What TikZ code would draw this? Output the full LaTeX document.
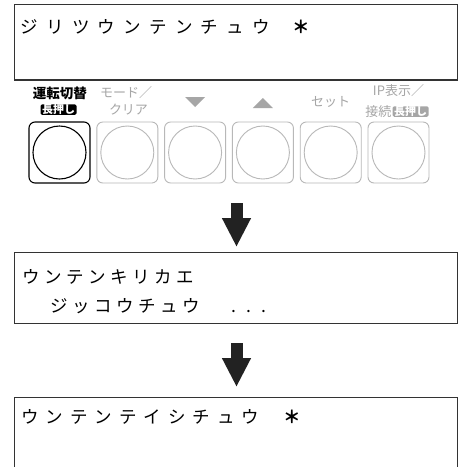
\documentclass[tikz,border=0pt]{standalone}
\usepackage{fontspec}
\newfontfamily\jp{Noto Sans CJK JP}
\usetikzlibrary{arrows.meta}
\definecolor{framec}{HTML}{333333}
\definecolor{btngray}{HTML}{B8B8B8}
\definecolor{lblgray}{HTML}{A6A6A6}
\definecolor{arrowc}{HTML}{222222}
\makeatletter
\newcommand\lcd[2]{\def\lcd@p{#1}\lcd@loop#2\lcd@end}
\def\lcd@end{\lcd@end}
\def\lcd@loop#1{\ifx#1\lcd@end\else\makebox[\lcd@p pt][c]{#1}\expandafter\lcd@loop\fi}
\makeatother
\tikzset{
  lcdbox/.style={draw=framec, line width=1.2pt, minimum width=443pt, anchor=north west, inner sep=0pt},
  lcdtext/.style={anchor=base west, inner sep=0pt, font=\jp\fontsize{17.5}{17.5}\selectfont, text=black},
  btn/.style={draw=btngray, line width=0.9pt, rounded corners=6pt, minimum width=61pt, minimum height=61pt, inner sep=0pt},
  btnon/.style={btn, draw=black, line width=1.1pt},
  knob/.style={circle, draw=btngray, line width=0.9pt, minimum size=53pt, inner sep=0pt},
  knobon/.style={knob, draw=black, line width=1.1pt},
  lbl/.style={inner sep=0pt, text=lblgray, font=\jp\fontsize{13}{13}\selectfont},
  lblon/.style={inner sep=0pt, text=black, font=\jp\bfseries\fontsize{13.5}{13.5}\selectfont},
  tag/.style={inner xsep=1.5pt, inner ysep=0pt, minimum height=10.5pt, rounded corners=1.5pt, text=white, font=\jp\bfseries\fontsize{11}{11}\selectfont},
  blockarrow/.style={draw=arrowc, line width=12pt, -{Triangle[width=27pt,length=29pt]}}
}
\begin{document}
\begin{tikzpicture}[x=1pt,y=-1pt]
\clip (0,0) rectangle (464,467);
\fill[white] (0,0) rectangle (464,467);
% display boxes
\node[lcdbox, minimum height=75.3pt] (d1) at (14,4) {};
\node[lcdbox, minimum height=71pt] (d2) at (14,252) {};
\node[lcdbox, minimum height=75pt] (d3) at (14,397) {};
% display texts
\node[lcdtext] (t1) at (16.6,33) {\lcd{25.7}{ジリツウンテンチュウ}\hspace{19pt}\makebox[17pt][c]{\bfseries ＊}};
\node[lcdtext] (t2a) at (20.5,283) {\lcd{22}{ウンテンキリカエ}};
\node[lcdtext] (t2b) at (48.5,312) {\lcd{22}{ジッコウチュウ}\hspace{24pt}\lcd{15}{...}};
\node[lcdtext] (t3) at (17.7,423) {\lcd{24.5}{ウンテンテイシチュウ}\hspace{21pt}\makebox[17pt][c]{\bfseries ＊}};
% buttons
\node[btnon] (b1) at (59.5,152.5) {};
\node[knobon] (k1) at (b1.center) {};
\foreach \i/\x in {2/127.3,3/195.1,4/262.9,5/330.7,6/398.5}{
  \node[btn] (b\i) at (\x,152.5) {};
  \node[knob] (k\i) at (b\i.center) {};
}
% labels
\node[lblon] (l1) at (60,93) {運転切替};
\node[tag, fill=black] (l1b) at (58.5,109.7) {長押し};
\node[lbl] (l2) at (126,93) {モード／};
\node[lbl] (l2b) at (128.5,110) {クリア};
\fill[lblgray] (185.1,97) -- (205.1,97) -- (195.1,107) -- cycle;
\fill[lblgray] (252.9,108) -- (272.9,108) -- (262.9,98) -- cycle;
\node[lbl] (l5) at (330.5,102) {セット};
\node[lbl] (l6) at (398.5,91) {IP表示／};
\node[lbl, anchor=east] (l6b) at (391.5,111.5) {接続};
\node[tag, fill=lblgray, anchor=west] (l6c) at (392.5,111.5) {長押し};
% arrows
\coordinate (a1s) at (236.5,203);
\coordinate (a1e) at (236.5,247);
\coordinate (a2s) at (236.5,343);
\coordinate (a2e) at (236.5,387);
\draw[blockarrow] (a1s) -- (a1e);
\draw[blockarrow] (a2s) -- (a2e);
\end{tikzpicture}
\end{document}
